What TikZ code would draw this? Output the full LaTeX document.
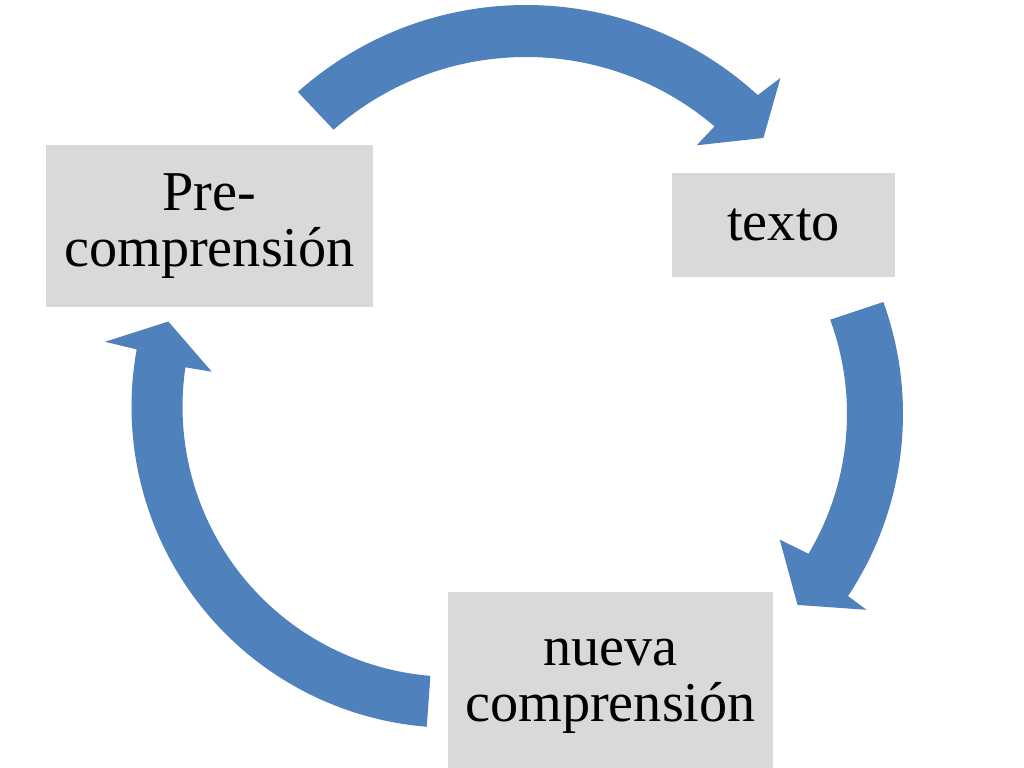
\documentclass[tikz,border=0pt]{standalone}
\usepackage{fontspec}
\setmainfont{Liberation Serif}
\usepackage{tikz}
\usetikzlibrary{calc}
\definecolor{boxgray}{HTML}{D9D9D9}
\definecolor{cycleblue}{HTML}{4F81BD}

\begin{document}
\begin{tikzpicture}
                    \clip (0,0) rectangle (10.24,7.68);
                    \fill[white] (0,0) rectangle (10.24,7.68);
                    \tikzset{stage/.style={fill=boxgray,inner sep=0pt,align=center,font=\fontsize{16}{16}\selectfont}}
                    \tikzset{bendarrow/.style={fill=cycleblue}}
                    \draw (2.095,5.42) node[stage,minimum width=3.27cm,minimum height=1.62cm,name=pre] {Pre-\\comprensión};
                    \draw (7.835,5.43) node[stage,minimum width=2.23cm,minimum height=1.04cm,name=texto] {texto};
                    \draw (6.105,0.814) node[stage,minimum width=3.25cm,minimum height=1.89cm,name=nueva] {nueva\\comprensión};
                    \coordinate (ctop) at (5.26,4.20);
                    \coordinate (cright) at (5.74,3.54);
                    \coordinate (cleft) at (4.525,3.612);
                    % pre -> texto
                    \fill[bendarrow] ($(ctop)+(131.7:3.43)$) arc[start angle=131.7,end angle=47.5,radius=3.43]
                        -- ($(ctop)+(46.7:3.71)$) -- ($(ctop)+(41.5:3.17)$) -- ($(ctop)+(49.9:2.65)$)
                        -- ($(ctop)+(49.6:2.91)$) arc[start angle=49.6,end angle=131.4,radius=2.91] -- cycle;
                    % texto -> nueva
                    \fill[bendarrow] ($(cright)+(19.9:3.29)$) arc[start angle=19.9,end angle=-33.6,radius=3.29]
                        -- ($(cright)+(-33.8:3.52)$) -- ($(cright)+(-40.5:2.94)$) -- ($(cright)+(-31.4:2.41)$)
                        -- ($(cright)+(-30.8:2.73)$) arc[start angle=-30.8,end angle=20.2,radius=2.73] -- cycle;
                    % nueva -> pre
                    \fill[bendarrow] ($(cleft)+(265.4:3.21)$) arc[start angle=265.4,end angle=169.7,radius=3.21]
                        -- ($(cleft)+(169.4:3.535)$) -- ($(cleft)+(163.3:2.967)$) -- ($(cleft)+(171.7:2.433)$)
                        -- ($(cleft)+(171.6:2.70)$) arc[start angle=171.6,end angle=265.3,radius=2.70] -- cycle;
                \end{tikzpicture}
\end{document}
